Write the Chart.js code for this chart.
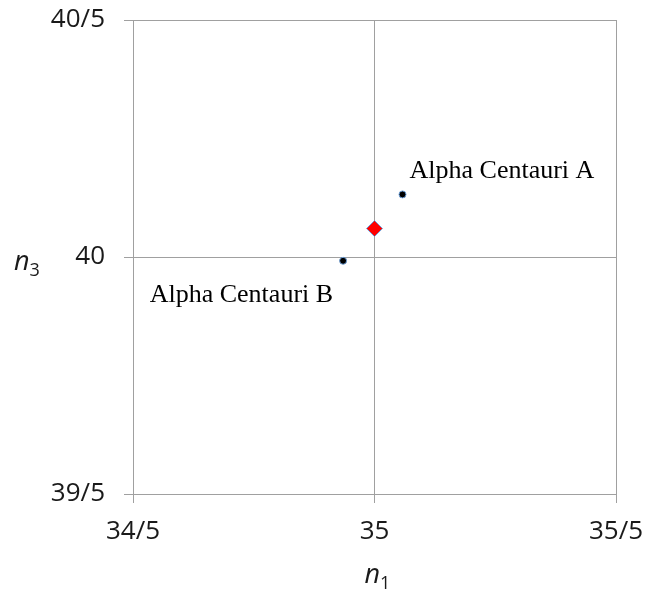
<!DOCTYPE html>
<html lang="en">
<head>
    <meta charset="UTF-8">
    <title>Alpha Centauri n1 / n3</title>
    <script src="https://cdn.jsdelivr.net/npm/chart.js"></script>
    <style>
        body {
            margin: 0;
            background: #fff;
        }
        canvas {
            display: block;
        }
    </style>
</head>
<body>

<canvas id="myChart" width="646" height="595"></canvas>

<script>
    // tick positions and the labels shown for them
    const xTickValues = [34.5, 35, 35.5];
    const xTickLabels = ['34/5', '35', '35/5'];
    const yTickValues = [39.5, 40, 40.5];
    const yTickLabels = ['39/5', '40', '40/5'];

    // the two stars
    const starNames = ['Alpha Centauri A', 'Alpha Centauri B'];
    const starN1 = [35.058, 34.935];
    const starN3 = [40.132, 39.992];

    // the red diamond
    const centerN1 = [35.0];
    const centerN3 = [40.06];

    const tickFont = { family: 'Open Sans', size: 26 };
    const gridColor = '#a0a0a0';

    // star names next to their points
    const starLabels = {
        id: 'starLabels',
        afterDatasetsDraw(chart) {
            const ctx = chart.ctx;
            const meta = chart.getDatasetMeta(0);
            const offsets = [
                { dx: 7, dy: -16, align: 'left' },
                { dx: -10, dy: 41, align: 'right' }
            ];
            ctx.save();
            ctx.font = '26px "Liberation Serif"';
            ctx.fillStyle = '#000';
            ctx.textBaseline = 'alphabetic';
            meta.data.forEach((pt, i) => {
                const o = offsets[i];
                ctx.textAlign = o.align;
                ctx.fillText(starNames[i], pt.x + o.dx, pt.y + o.dy);
            });
            ctx.restore();
        }
    };

    // axis titles with subscripts
    const axisTitles = {
        id: 'axisTitles',
        afterDraw(chart) {
            const ctx = chart.ctx;
            const area = chart.chartArea;
            const drawSub = (x, y, main, sub) => {
                ctx.font = 'italic 27px "Open Sans"';
                ctx.fillText(main, x, y);
                const w = ctx.measureText(main).width;
                ctx.font = '18px "Open Sans"';
                ctx.fillText(sub, x + w, y + 6);
            };
            ctx.save();
            ctx.fillStyle = '#1a1a1a';
            ctx.textAlign = 'left';
            ctx.textBaseline = 'alphabetic';
            drawSub(14, (area.top + area.bottom) / 2 + 13, 'n', '3');
            drawSub((area.left + area.right) / 2 - 10, area.bottom + 89, 'n', '1');
            ctx.restore();
        }
    };

    // keep the plot area where the layout padding puts it
    function noLabelPadding(scale) {
        scale.paddingTop = 0;
        scale.paddingBottom = 0;
        scale.paddingLeft = 0;
        scale.paddingRight = 0;
    }

    function createChart() {
        const ctx = document.getElementById('myChart').getContext('2d');

        new Chart(ctx, {
            type: 'scatter',
            data: {
                datasets: [{
                    label: 'stars',
                    data: starN1.map((x, i) => ({ x: x, y: starN3[i] })),
                    backgroundColor: '#000',
                    borderColor: '#6fa0d8',
                    borderWidth: 1,
                    pointRadius: 3.5
                }, {
                    label: 'center',
                    data: centerN1.map((x, i) => ({ x: x, y: centerN3[i] })),
                    pointStyle: 'rectRot',
                    backgroundColor: '#ff0000',
                    borderColor: '#6fa0d8',
                    borderWidth: 1,
                    pointRadius: 8
                }]
            },
            options: {
                responsive: false,
                animation: false,
                layout: {
                    padding: { top: 20, right: 30, left: 0, bottom: 0 }
                },
                plugins: {
                    legend: { display: false },
                    tooltip: { enabled: false }
                },
                scales: {
                    x: {
                        type: 'linear',
                        min: xTickValues[0],
                        max: xTickValues[xTickValues.length - 1],
                        afterBuildTicks: scale => {
                            scale.ticks = xTickValues.map(v => ({ value: v }));
                        },
                        afterFit: scale => {
                            scale.height = 101;
                            noLabelPadding(scale);
                        },
                        grid: { color: gridColor, tickLength: 9 },
                        border: { color: gridColor },
                        ticks: {
                            font: tickFont,
                            color: '#1a1a1a',
                            padding: 13,
                            maxRotation: 0,
                            callback: (v, i) => xTickLabels[i]
                        }
                    },
                    y: {
                        type: 'linear',
                        min: yTickValues[0],
                        max: yTickValues[yTickValues.length - 1],
                        afterBuildTicks: scale => {
                            scale.ticks = yTickValues.map(v => ({ value: v }));
                        },
                        afterFit: scale => {
                            scale.width = 133;
                            noLabelPadding(scale);
                        },
                        grid: { color: gridColor, tickLength: 9 },
                        border: { color: gridColor },
                        ticks: {
                            font: tickFont,
                            color: '#1a1a1a',
                            padding: 19,
                            callback: (v, i) => yTickLabels[i]
                        }
                    }
                }
            },
            plugins: [starLabels, axisTitles]
        });
    }

    document.addEventListener('DOMContentLoaded', createChart);
</script>

</body>
</html>
